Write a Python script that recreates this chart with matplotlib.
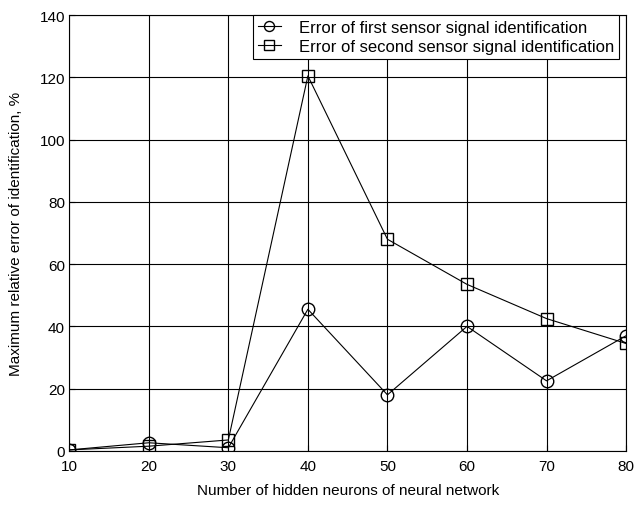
import matplotlib
matplotlib.use("Agg")

import matplotlib.pyplot as plt

#data
neurons = [10, 20, 30, 40, 50, 60, 70, 80]
err_first = [0.3, 2.6, 1.0, 45.5, 18.0, 40.0, 22.5, 37.0]
err_second = [0.3, 1.5, 3.5, 120.5, 68.0, 53.5, 42.5, 34.5]

plt.rcParams['font.family'] = ['Liberation Sans', 'DejaVu Sans']
plt.rcParams['font.size'] = 11

fig = plt.figure(figsize=(6.35, 5.06), dpi=100)
ax = fig.add_axes([0.109, 0.107, 0.877, 0.861])

ax.plot(neurons, err_first, marker='o', markersize=9, markerfacecolor='none',
        color='black', linewidth=0.8, label="Error of first sensor signal identification")
ax.plot(neurons, err_second, marker='s', markersize=9, markerfacecolor='none',
        color='black', linewidth=0.8, label="Error of second sensor signal identification")

ax.set_xlim(10, 80)
ax.set_ylim(0, 140)
ax.set_xticks(range(10, 81, 10))
ax.set_yticks(range(0, 141, 20))
ax.grid(True, color='black', linestyle='-', linewidth=0.8)
ax.tick_params(direction='in', length=4)
ax.tick_params(axis='x', pad=6)
ax.tick_params(axis='y', pad=3)
for s in ax.spines.values():
    s.set_linewidth(0.8)

ax.set_xlabel("Number of hidden neurons of neural network", labelpad=7)
ax.set_ylabel("Maximum relative error of identification, %", labelpad=12)

leg = ax.legend(loc='upper right', bbox_to_anchor=(0.988, 1.0), fancybox=False,
                edgecolor='black', framealpha=1, borderpad=0.3, labelspacing=0.2,
                handlelength=1.4, handletextpad=1.1, borderaxespad=0.0,
                fontsize=12, markerscale=0.8)
leg.get_frame().set_linewidth(0.8)

plt.savefig("out.png")
